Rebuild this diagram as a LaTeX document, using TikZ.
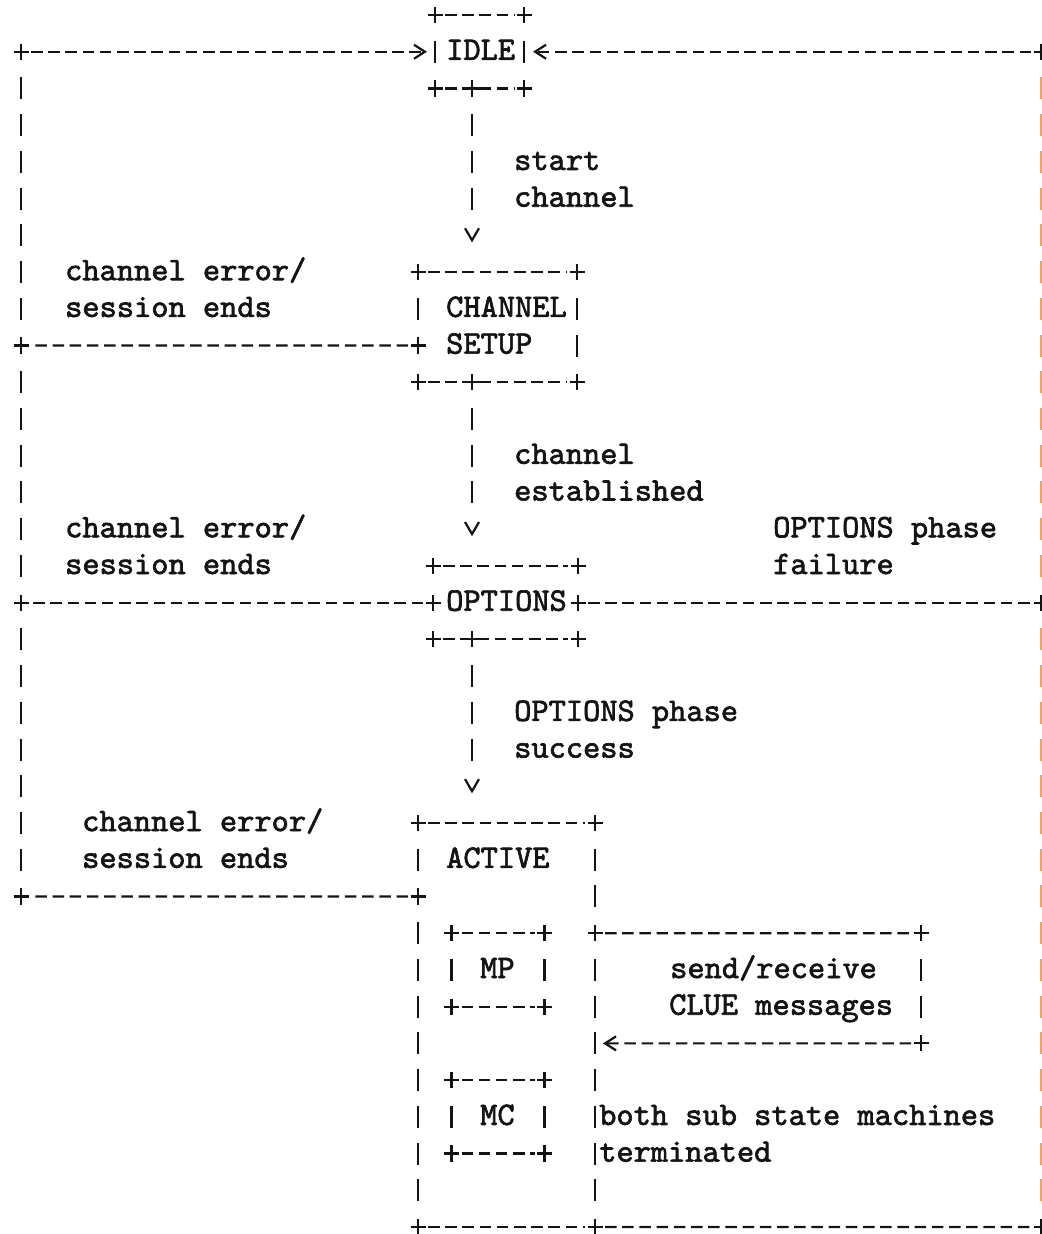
\documentclass[tikz,border=0pt]{standalone}
\usepackage{fontspec}
\usetikzlibrary{arrows.meta}

\newfontfamily\asciitt{lmmono10-regular.otf}[FakeBold=2]
\definecolor{ink}{RGB}{20,20,20}
\definecolor{fringe}{RGB}{238,164,96}
\newcommand{\asciifont}{\fontsize{32.8}{36.7}\selectfont\asciitt}

% one text row of the drawing is 36.727pt high
\tikzset{
  lbl/.style={font=\asciifont, text=ink, inner sep=0pt, anchor=base west},
  state/.style={rectangle, inner sep=0pt, outer sep=0pt},
  hdash/.style={draw=ink, line width=2.2pt, dash pattern=on 11.5pt off 5.7pt,
    shorten <=10pt, shorten >=10pt},
  vdash/.style={draw=ink, line width=2.2pt, dash pattern=on 22pt off 14.727pt,
    dash phase=29.36pt, shorten <=18.36pt, shorten >=18.36pt},
  barb/.style={-{Straight Barb[length=11pt, width=14pt, line width=2.2pt]}},
  % three bars, then the v one row above the next box
  varrow/.style={draw=ink, line width=2.2pt,
    dash pattern=on 22pt off 14.727pt on 22pt off 14.727pt on 22pt off 40pt,
    dash phase=128.09pt, shorten <=18.36pt, shorten >=29.7pt,
    -{Straight Barb[length=12pt, width=14pt, line width=2.2pt]}},
  asciiplus/.pic={\draw[ink, line width=2.2pt] (-7.5,0) -- (7.5,0) (0,-0.22) -- (0,0.22);}
}

% corners and top/bottom edges of a box
\newcommand{\asciibox}[1]{%
  \draw[hdash] (#1.north west) -- (#1.north east);
  \draw[hdash] (#1.south west) -- (#1.south east);
  \foreach \c in {north west, north east, south west, south east}
    \pic at (#1.\c) {asciiplus};
}

\begin{document}
\begin{tikzpicture}[x=1pt, y=-36.727pt]
\useasboundingbox (0,0.5916) rectangle (1041,34.19);

% states
\node[state, minimum width=89pt, minimum height=73.45pt] (idle) at (479.5,2) {};
\node[state, minimum width=159pt, minimum height=110.18pt] (setup) at (497.5,9.5) {};
\node[state, minimum width=145pt, minimum height=73.45pt] (options) at (505.5,17) {};
\node[state, minimum width=177pt, minimum height=404pt] (active) at (506.5,28.5) {};
\node[state, minimum width=93pt, minimum height=73.45pt] (mp) at (498,27) {};
\node[state, minimum width=93pt, minimum height=73.45pt] (mc) at (498,31) {};

\node[lbl] (idle-t) at (446,2.22) {IDLE};
\node[lbl] (setup-t1) at (446,9.22) {CHANNEL};
\node[lbl] (setup-t2) at (446,10.22) {SETUP};
\node[lbl] (options-t) at (446,17.22) {OPTIONS};
\node[lbl] (active-t) at (446,24.22) {ACTIVE};
\node[lbl] (mp-t) at (480,27.22) {MP};
\node[lbl] (mc-t) at (480,31.22) {MC};

% junction points
\coordinate (spine) at (472,1);
\coordinate (setup-j) at ([yshift=-18.36pt]setup.west);
\coordinate (active-j) at ([yshift=-73.45pt]active.north west);
\coordinate (loop-out) at ([yshift=-110.18pt]active.north east);
\coordinate (loop-in) at ([yshift=-220.36pt]active.north east);
\coordinate (lp1) at (921,26);
\coordinate (lp2) at (921,29);
\coordinate (lt1) at (21,2);
\coordinate (lt2) at (21,10);
\coordinate (lt3) at (21,17);
\coordinate (lt4) at (21,25);
\coordinate (rt1) at (1041,2);
\coordinate (rt2) at (1041,17);
\coordinate (rt3) at (1041,34);

% boxes
\asciibox{idle}
\asciibox{setup}
\asciibox{options}
\asciibox{active}
\asciibox{mp}
\asciibox{mc}
\draw[vdash] (idle.north west) -- (idle.south west);
\draw[vdash] (idle.north east) -- (idle.south east);
\draw[vdash] (setup.north west) -- (setup-j);
\draw[vdash] (setup.north east) -- (setup.south east);
\draw[vdash] (active.north west) -- (active-j);
\draw[vdash] (active-j) -- (active.south west);
\draw[vdash] (active.north east) -- (loop-out);
\draw[vdash] (loop-out) -- (active.south east);
\draw[vdash] (mp.north west) -- (mp.south west);
\draw[vdash] (mp.north east) -- (mp.south east);
\draw[vdash] (mc.north west) -- (mc.south west);
\draw[vdash] (mc.north east) -- (mc.south east);

% forward transitions
\draw[varrow] (idle.south -| spine) -- (setup.north -| spine);
\draw[varrow] (setup.south -| spine) -- (options.north -| spine);
\draw[varrow] (options.south -| spine) -- (active.north -| spine);

\node[lbl] (start-l1) at (514,5.22) {start};
\node[lbl] (start-l2) at (514,6.22) {channel};
\node[lbl] (est-l1) at (514,13.22) {channel};
\node[lbl] (est-l2) at (514,14.22) {established};
\node[lbl] (succ-l1) at (514,20.22) {OPTIONS phase};
\node[lbl] (succ-l2) at (514,21.22) {success};

% back to IDLE on the left
\draw[hdash] (setup-j) -- (lt2);
\draw[hdash] (options.west) -- (lt3);
\draw[hdash] (active-j) -- (lt4);
\draw[vdash] (lt4) -- (lt3);
\draw[vdash] (lt3) -- (lt2);
\draw[vdash] (lt2) -- (lt1);
\draw[hdash, barb, shorten >=8pt] (lt1) -- (idle.west);

\node[lbl] (err1-l1) at (65,8.22) {channel error/};
\node[lbl] (err1-l2) at (65,9.22) {session ends};
\node[lbl] (err2-l1) at (65,15.22) {channel error/};
\node[lbl] (err2-l2) at (65,16.22) {session ends};
\node[lbl] (err3-l1) at (82,23.22) {channel error/};
\node[lbl] (err3-l2) at (82,24.22) {session ends};

% back to IDLE on the right
\draw[hdash] (active.south east) -- (rt3);
\draw[hdash] (options.east) -- (rt2);
\draw[vdash, draw=fringe, line width=3pt] (rt3) -- (rt2);
\draw[vdash, draw=fringe, line width=3pt] (rt2) -- (rt1);
\draw[hdash, barb, shorten >=9pt] (rt1) -- (idle.east);

\node[lbl] (fail-l1) at (773,15.22) {OPTIONS phase};
\node[lbl] (fail-l2) at (773,16.22) {failure};
\node[lbl] (term-l1) at (599,31.22) {both sub state machines};
\node[lbl] (term-l2) at (599,32.22) {terminated};

% CLUE message loop
\draw[hdash] (loop-out) -- (lp1);
\draw[vdash] (lp1) -- (lp2);
\draw[hdash, barb, shorten >=8pt] (lp2) -- (loop-in);

\node[lbl] (msg-l1) at (670,27.22) {send/receive};
\node[lbl] (msg-l2) at (669,28.22) {CLUE messages};

% junction marks
\foreach \p in {setup-j, active-j, loop-out, options.west, options.east,
    lt1, lt2, lt3, lt4, rt1, rt2, rt3, lp1, lp2}
  \pic at (\p) {asciiplus};
\foreach \n in {idle, setup, options}
  \pic at (\n.south -| spine) {asciiplus};

\end{tikzpicture}
\end{document}
